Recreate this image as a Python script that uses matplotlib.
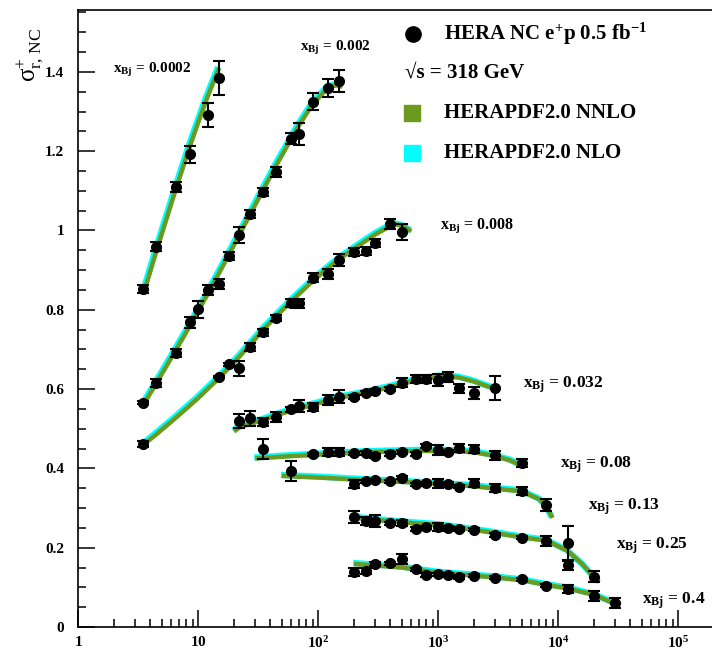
import numpy as np
import matplotlib
matplotlib.use("Agg")
import matplotlib.pyplot as plt
import matplotlib.transforms as mtransforms
from matplotlib.ticker import FixedLocator, MultipleLocator, LogLocator, NullFormatter

plt.rcParams['font.family'] = ['Liberation Serif', 'DejaVu Serif']
plt.rcParams['mathtext.fontset'] = 'custom'
plt.rcParams['mathtext.rm'] = 'Liberation Serif'
plt.rcParams['mathtext.bf'] = 'Liberation Serif:bold'
plt.rcParams['mathtext.it'] = 'Liberation Serif:italic'

# data points: (Q2, sigma_r, error) per x_Bj bin
q2_0002 = [3.5, 4.5, 6.5, 8.5, 12, 15]
sig_0002 = [0.852, 0.959, 1.110, 1.192, 1.291, 1.384]
err_0002 = [0.010, 0.012, 0.013, 0.022, 0.030, 0.043]

q2_002 = [3.5, 4.5, 6.5, 8.5, 10, 12, 15, 18, 22, 27, 35, 45, 60, 70, 90, 120, 150]
sig_002 = [0.566, 0.615, 0.692, 0.768, 0.801, 0.850, 0.865, 0.936, 0.988, 1.042,
           1.096, 1.148, 1.231, 1.243, 1.325, 1.359, 1.377]
err_002 = [0.004, 0.010, 0.010, 0.015, 0.021, 0.012, 0.012, 0.010, 0.020, 0.010,
           0.010, 0.012, 0.014, 0.028, 0.022, 0.022, 0.027]

q2_008 = [3.5, 15, 18, 22, 27, 35, 45, 60, 70, 90, 120, 150, 200, 250, 300, 400, 500]
sig_008 = [0.461, 0.631, 0.662, 0.652, 0.706, 0.743, 0.779, 0.816, 0.816, 0.881,
           0.890, 0.925, 0.945, 0.949, 0.968, 1.016, 0.996]
err_008 = [0.008, 0.003, 0.003, 0.020, 0.010, 0.008, 0.008, 0.010, 0.012, 0.012,
           0.012, 0.015, 0.010, 0.010, 0.010, 0.013, 0.020]

q2_032 = [22, 27, 35, 45, 60, 70, 90, 120, 150, 200, 250, 300, 400, 500, 650, 800,
          1000, 1200, 1500, 2000, 3000]
sig_032 = [0.520, 0.526, 0.516, 0.530, 0.549, 0.557, 0.555, 0.572, 0.581, 0.581,
           0.591, 0.596, 0.600, 0.616, 0.625, 0.625, 0.623, 0.630, 0.602, 0.589, 0.602]
err_032 = [0.018, 0.018, 0.010, 0.012, 0.006, 0.015, 0.010, 0.012, 0.016, 0.005,
           0.005, 0.005, 0.005, 0.012, 0.010, 0.010, 0.014, 0.012, 0.012, 0.015, 0.030]

q2_08 = [35, 90, 120, 150, 200, 250, 300, 400, 500, 650, 800, 1000, 1200, 1500, 2000, 3000, 5000]
sig_08 = [0.448, 0.436, 0.441, 0.442, 0.438, 0.440, 0.431, 0.436, 0.442, 0.436,
          0.457, 0.446, 0.441, 0.452, 0.449, 0.433, 0.413]
err_08 = [0.025, 0.004, 0.010, 0.010, 0.004, 0.005, 0.005, 0.005, 0.005, 0.005,
          0.005, 0.012, 0.005, 0.010, 0.010, 0.012, 0.010]

q2_13 = [60, 200, 250, 300, 400, 500, 650, 800, 1000, 1200, 1500, 2000, 3000, 5000, 8000]
sig_13 = [0.394, 0.361, 0.367, 0.370, 0.367, 0.376, 0.360, 0.362, 0.362, 0.361,
          0.354, 0.362, 0.351, 0.343, 0.308]
err_13 = [0.025, 0.010, 0.004, 0.004, 0.004, 0.004, 0.004, 0.004, 0.012, 0.004,
          0.004, 0.010, 0.010, 0.010, 0.015]

q2_25 = [200, 250, 300, 400, 500, 650, 800, 1000, 1200, 1500, 2000, 3000, 5000, 8000,
         12000, 12000, 20000]
sig_25 = [0.278, 0.267, 0.267, 0.262, 0.262, 0.247, 0.251, 0.253, 0.250, 0.247,
          0.245, 0.232, 0.225, 0.217, 0.211, 0.156, 0.127]
err_25 = [0.015, 0.010, 0.015, 0.004, 0.008, 0.004, 0.004, 0.010, 0.004, 0.004,
          0.004, 0.004, 0.004, 0.012, 0.044, 0.012, 0.014]

q2_4 = [200, 250, 300, 400, 500, 650, 800, 1000, 1200, 1500, 2000, 3000, 5000, 8000,
        12000, 20000, 30000]
sig_4 = [0.138, 0.142, 0.159, 0.161, 0.172, 0.146, 0.131, 0.133, 0.131, 0.126,
         0.129, 0.124, 0.120, 0.104, 0.095, 0.078, 0.060]
err_4 = [0.010, 0.008, 0.004, 0.004, 0.013, 0.004, 0.004, 0.004, 0.004, 0.004,
         0.004, 0.004, 0.004, 0.004, 0.010, 0.012, 0.012]

# HERAPDF2.0 predictions
fq_0002 = [3.5, 4.5, 6.5, 8.5, 10, 12, 15]
fs_0002 = [0.838, 0.948, 1.102, 1.210, 1.271, 1.337, 1.410]
fq_002 = [3.5, 4.5, 6.5, 8.5, 10, 12, 15, 18, 22, 27, 35, 45, 60, 70, 90, 120, 135, 150, 160]
fs_002 = [0.560, 0.615, 0.697, 0.758, 0.796, 0.839, 0.893, 0.938, 0.988, 1.039, 1.103,
          1.165, 1.232, 1.267, 1.318, 1.359, 1.365, 1.366, 1.362]
fq_008 = [3.5, 4.5, 6.5, 8.5, 10, 12, 15, 18, 22, 27, 35, 45, 60, 70, 90, 120, 150,
          200, 250, 300, 400, 450, 500, 600]
fs_008 = [0.459, 0.486, 0.527, 0.558, 0.577, 0.600, 0.628, 0.653, 0.681, 0.711, 0.750,
          0.784, 0.822, 0.841, 0.872, 0.904, 0.928, 0.954, 0.974, 0.990, 1.011, 1.015,
          1.012, 0.998]
fq_032 = [20, 22, 27, 35, 45, 60, 90, 150, 250, 400, 650, 1000, 1200, 1500, 2000, 3000]
fs_032 = [0.493, 0.503, 0.512, 0.522, 0.534, 0.546, 0.56, 0.578, 0.591, 0.605, 0.622,
          0.631, 0.632, 0.629, 0.619, 0.600]
fq_08 = [30, 60, 90, 250, 650, 1200, 2000, 3000, 4000, 5000]
fs_08 = [0.425, 0.431, 0.434, 0.441, 0.444, 0.444, 0.441, 0.431, 0.42, 0.406]
fq_13 = [50, 100, 200, 500, 1000, 2000, 3000, 5000, 7000, 8000, 9000]
fs_13 = [0.381, 0.377, 0.372, 0.366, 0.361, 0.355, 0.349, 0.342, 0.322, 0.305, 0.275]
fq_25 = [190, 300, 500, 1000, 2000, 3000, 5000, 8000, 12000, 16000, 20000, 22000]
fs_25 = [0.277, 0.27, 0.264, 0.257, 0.245, 0.237, 0.226, 0.218, 0.192, 0.158, 0.125, 0.113]
fq_4 = [200, 500, 1000, 2000, 3000, 5000, 8000, 12000, 20000, 30000, 32000]
fs_4 = [0.159, 0.150, 0.137, 0.1295, 0.125, 0.118, 0.106, 0.0975, 0.081, 0.058, 0.053]

bins = [
    (q2_0002, sig_0002, err_0002, fq_0002, fs_0002),
    (q2_002, sig_002, err_002, fq_002, fs_002),
    (q2_008, sig_008, err_008, fq_008, fs_008),
    (q2_032, sig_032, err_032, fq_032, fs_032),
    (q2_08, sig_08, err_08, fq_08, fs_08),
    (q2_13, sig_13, err_13, fq_13, fs_13),
    (q2_25, sig_25, err_25, fq_25, fs_25),
    (q2_4, sig_4, err_4, fq_4, fs_4),
]

bin_labels = ["0.0002", "0.002", "0.008", "0.032", "0.08", "0.13", "0.25", "0.4"]
label_q2 = [1.96, 71, 1040, 5100, 10400, 17800, 30400, 50000]
label_sig = [1.405, 1.46, 1.011, 0.61, 0.409, 0.303, 0.204, 0.066]
label_size = [11, 11, 11.5, 12.5, 12.5, 12.5, 12.5, 12.5]

nnlo_color = "#6b9a1f"
nlo_color = "#00ffff"

fig = plt.figure(figsize=(7.12, 6.54), dpi=100)
ax = fig.add_axes([78 / 712, 27 / 654, 1 - 78 / 712, 617 / 654])

shift = mtransforms.ScaledTranslation(-1 / 100, 1 / 100, fig.dpi_scale_trans)
for q2, s, e, fq, fs in bins:
    ax.plot(fq, fs, color=nlo_color, lw=4.5, solid_capstyle='butt',
            solid_joinstyle='round', transform=ax.transData + shift, zorder=2)
    ax.plot(fq, fs, color=nnlo_color, lw=3.2, solid_capstyle='butt',
            solid_joinstyle='round', zorder=3)
    ax.errorbar(q2, s, yerr=e, fmt='o', color='black', ms=7, elinewidth=1.5,
                capsize=4, capthick=1.5, zorder=5)

for lab, lq, ls, fsz in zip(bin_labels, label_q2, label_sig, label_size):
    ax.text(lq, ls, r"$\mathbf{x_{Bj}}$" + " = " + lab, fontsize=fsz,
            fontweight='bold', va='center', ha='left')

ax.set_xscale('log')
ax.set_xlim(1, 10 ** 5.283)
ax.set_ylim(0, 1.556)

ax.xaxis.set_major_locator(FixedLocator([1, 10, 100, 1000, 1e4, 1e5]))
ax.xaxis.set_minor_locator(LogLocator(base=10, subs=np.arange(2, 10)))
ax.xaxis.set_minor_formatter(NullFormatter())
ax.set_xticklabels([r"$\mathbf{1}$", r"$\mathbf{10}$", r"$\mathbf{10^{2}}$",
                    r"$\mathbf{10^{3}}$", r"$\mathbf{10^{4}}$", r"$\mathbf{10^{5}}$"])
ax.yaxis.set_major_locator(FixedLocator([0, 0.2, 0.4, 0.6, 0.8, 1.0, 1.2, 1.4]))
ax.set_yticklabels(["0", "0.2", "0.4", "0.6", "0.8", "1", "1.2", "1.4"])
ax.yaxis.set_minor_locator(MultipleLocator(0.05))

ax.tick_params(which='both', direction='in', top=False, right=False,
               labelsize=11, width=1.1)
ax.tick_params(which='major', length=12)
ax.tick_params(which='minor', length=6)
ax.tick_params(axis='y', pad=10)
ax.tick_params(axis='x', pad=6)
for lbl in ax.get_yticklabels():
    lbl.set_fontweight('bold')
ax.spines['right'].set_visible(False)
for sp in ['left', 'bottom', 'top']:
    ax.spines[sp].set_linewidth(1.2)

fig.text(30 / 712, 1 - 55 / 654, r"$\mathrm{\sigma}^{+}_{\rm r,\,NC}$", rotation=90,
         fontsize=18, va='center', ha='center')

# legend drawn by hand in figure pixels
def fy(p):
    return 1 - p / 654

ax.plot([413 / 712], [fy(34)], 'o', color='black', ms=11, transform=fig.transFigure,
        clip_on=False)
ax.plot([412 / 712], [fy(113)], 's', color=nnlo_color, ms=12, transform=fig.transFigure,
        clip_on=False)
ax.plot([412 / 712], [fy(153)], 's', color=nlo_color, ms=12, transform=fig.transFigure,
        clip_on=False)
fig.text(444 / 712, fy(34), r"HERA NC e$^{\mathbf{+}}$p 0.5 fb$^{\mathbf{-1}}$",
         fontsize=15, fontweight='bold', va='center')
fig.text(405 / 712, fy(73), "\u221as = 318 GeV", fontsize=15, fontweight='bold',
         va='center')
fig.text(444 / 712, fy(113), "HERAPDF2.0 NNLO", fontsize=15, fontweight='bold',
         va='center')
fig.text(444 / 712, fy(153), "HERAPDF2.0 NLO", fontsize=15, fontweight='bold',
         va='center')

fig.savefig("out.png", dpi=100)
